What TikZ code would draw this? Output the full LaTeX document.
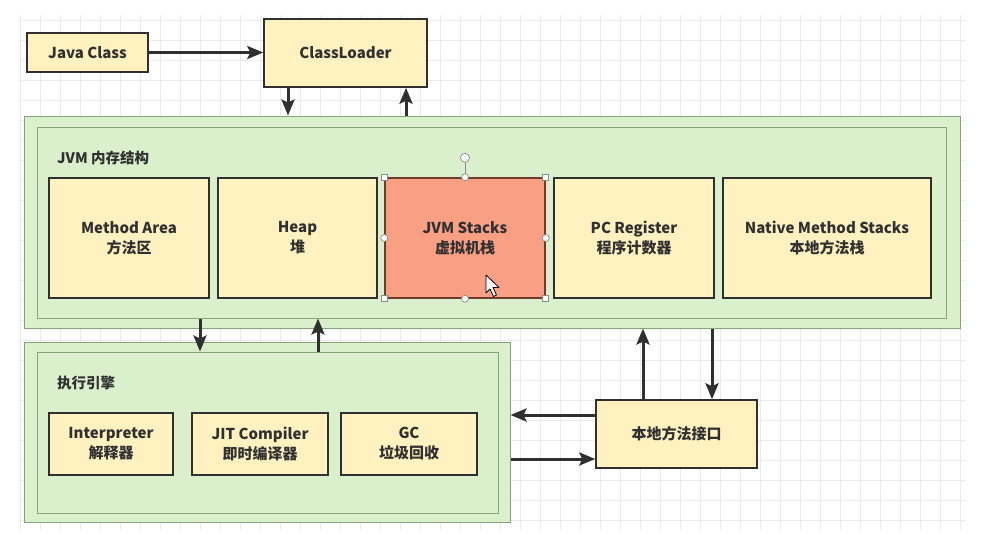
\documentclass[tikz,border=0pt]{standalone}
\usepackage{fontspec}
\setmainfont{Noto Sans CJK SC}
\usetikzlibrary{arrows.meta}
\definecolor{boxyellow}{HTML}{FFF2C0}
\definecolor{boxgreen}{HTML}{DAEFCB}
\definecolor{greenline}{HTML}{86A577}
\definecolor{salmon}{HTML}{F9A084}
\definecolor{salmonline}{HTML}{6E3B2C}
\definecolor{darkline}{HTML}{303030}
\definecolor{gridc}{HTML}{EAEAEA}
\definecolor{handlec}{HTML}{8A8A8A}
\tikzset{
  ybox/.style={draw=darkline, line width=1.5pt, fill=boxyellow, align=center,
    font=\fontsize{15}{20}\selectfont\bfseries, text=darkline, inner sep=0pt},
  gbox/.style={draw=greenline, line width=1pt, fill=boxgreen, inner sep=0pt},
  lbl/.style={anchor=west, font=\fontsize{14.5}{18}\selectfont\bfseries, text=darkline, inner sep=0pt},
  arr/.style={draw=darkline, line width=3pt, -{Stealth[length=16pt,width=13pt,inset=3pt]}},
  hsq/.style={draw=handlec, fill=white, line width=0.7pt, minimum size=6pt, inner sep=0pt},
  hci/.style={draw=handlec, fill=white, line width=0.7pt, circle, minimum size=7pt, inner sep=0pt},
}
\begin{document}
\begin{tikzpicture}[x=1pt,y=-1pt]
\useasboundingbox[fill=white] (0,0) rectangle (991,535);
% grid
\foreach \gx in {20,40,...,960} \draw[gridc, line width=0.6pt] (\gx,15) -- (\gx,530);
\foreach \gy in {20,40,...,520} \draw[gridc, line width=0.6pt] (20,\gy) -- (965,\gy);

% top row
\node[ybox, minimum width=121pt, minimum height=39pt] (jc) at (87.5,52.5) {Java Class};
\node[ybox, minimum width=163pt, minimum height=68pt] (cl) at (345.5,53) {ClassLoader};

% JVM memory structure
\node[gbox, minimum width=936pt, minimum height=212pt] (jvmo) at (492,222) {};
\node[gbox, minimum width=909pt, minimum height=191pt] (jvmi) at (491.5,222.5) {};
\node[lbl] (jvmlbl) at (57,158) {JVM 内存结构};
\node[ybox, minimum width=160pt, minimum height=120pt] (ma) at (129,238) {Method Area\\方法区};
\node[ybox, minimum width=159pt, minimum height=120pt] (heap) at (297.5,238) {Heap\\堆};
\node[ybox, fill=salmon, draw=salmonline, minimum width=160pt, minimum height=120pt] (jvms) at (465,238) {JVM Stacks\\虚拟机栈};
\node[ybox, minimum width=160pt, minimum height=120pt] (pc) at (634,238) {PC Register\\程序计数器};
\node[ybox, minimum width=208pt, minimum height=120pt] (nms) at (827,238) {Native Method Stacks\\本地方法栈};

% execution engine
\node[gbox, minimum width=486pt, minimum height=180pt] (exo) at (267,432) {};
\node[gbox, minimum width=461pt, minimum height=161pt] (exi) at (267.5,432.5) {};
\node[lbl] (exlbl) at (57,383) {执行引擎};
\node[ybox, minimum width=124pt, minimum height=62pt] (interp) at (111,444) {Interpreter\\解释器};
\node[ybox, minimum width=136pt, minimum height=62pt] (jit) at (260,444) {JIT Compiler\\即时编译器};
\node[ybox, minimum width=136pt, minimum height=62pt] (gc) at (409,444) {GC\\垃圾回收};

% native interface
\node[ybox, minimum width=161pt, minimum height=68pt] (nif) at (676.5,434) {本地方法接口};

% helper x / y positions
\coordinate (x288) at (288,0);
\coordinate (x406) at (406,0);
\coordinate (x200) at (200,0);
\coordinate (x318) at (318,0);
\coordinate (x643) at (643,0);
\coordinate (x712) at (712,0);
\coordinate (y415) at (0,415);
\coordinate (y459) at (0,459);

% connectors
\draw[arr] (jc.east) -- (jc.east -| cl.west);
\draw[arr] (cl.south -| x288) -- (jvmo.north -| x288);
\draw[arr] (jvmo.north -| x406) -- (cl.south -| x406);
\draw[arr] (jvmi.south -| x200) -- (exi.north -| x200);
\draw[arr] (exi.north -| x318) -- (jvmi.south -| x318);
\draw[arr] (nif.north -| x643) -- (jvmo.south -| x643);
\draw[arr] (jvmo.south -| x712) -- (nif.north -| x712);
\draw[arr] (nif.west |- y415) -- (exo.east |- y415);
\draw[arr] (exo.east |- y459) -- (nif.west |- y459);

% selection handles on JVM Stacks
\draw[handlec, line width=0.8pt] (jvms.north) -- ++(0,-15);
\node[hci, minimum size=9pt] (rot) at ([yshift=19.5pt]jvms.north) {};
\foreach \a in {north west, north east, south west, south east}
  \node[hsq] at (jvms.\a) {};
\foreach \a in {north, south, east, west}
  \node[hci] at (jvms.\a) {};

% mouse cursor
\draw[fill=white, draw=black, line width=0.8pt, line join=round]
  (486,275) -- (486,293) -- (490,289) -- (493.5,296.5) -- (496.5,295) -- (493,287.5) -- (499,287.5) -- cycle;
\end{tikzpicture}
\end{document}
